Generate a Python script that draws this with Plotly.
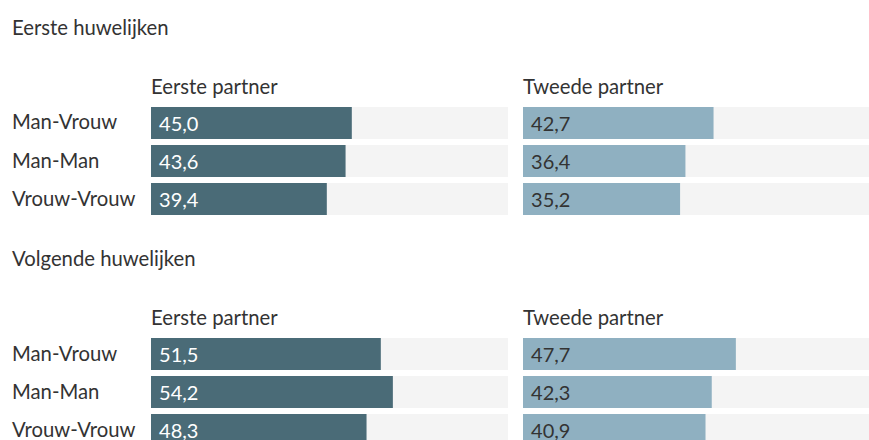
import plotly.graph_objects as go

categories = ["Man-Vrouw", "Man-Man", "Vrouw-Vrouw"]
sections = ["Eerste huwelijken", "Volgende huwelijken"]
panels = ["Eerste partner", "Tweede partner"]
eerste_huw_partner1 = [45.0, 43.6, 39.4]
eerste_huw_partner2 = [42.7, 36.4, 35.2]
volgende_huw_partner1 = [51.5, 54.2, 48.3]
volgende_huw_partner2 = [47.7, 42.3, 40.9]
max_value = 80

W, H = 869, 440
FONT = "Lato"
TXT = "#333333"
DARK = "#4a6b77"
LIGHT = "#8fb0c1"
BG = "#f4f4f4"
FS = 20.3

def fmt(v):
    return "\u00a0" + f"{v:.1f}".replace(".", ",")

fig = go.Figure()

data = [
    (eerste_huw_partner1, "x", "y", DARK, "white"),
    (eerste_huw_partner2, "x2", "y", LIGHT, TXT),
    (volgende_huw_partner1, "x", "y2", DARK, "white"),
    (volgende_huw_partner2, "x2", "y2", LIGHT, TXT),
]
bw = 32 / 38
for vals, xa, ya, col, tcol in data:
    fig.add_trace(go.Bar(
        y=categories, x=[max_value] * len(categories), orientation="h",
        marker=dict(color=BG, line=dict(width=0)), width=bw,
        xaxis=xa, yaxis=ya, hoverinfo="skip", showlegend=False))
    fig.add_trace(go.Bar(
        y=categories, x=vals, orientation="h",
        marker=dict(color=col, line=dict(width=0)), width=bw,
        text=[fmt(v) for v in vals], textposition="inside",
        insidetextanchor="start", textangle=0,
        insidetextfont=dict(family=FONT, size=20, color=tcol),
        xaxis=xa, yaxis=ya, showlegend=False))

def px(x):
    return x / W

def py(y):
    return 1 - y / H

xr2 = (W - 523) / (357 / max_value)
axis_common = dict(showgrid=False, zeroline=False, showticklabels=False, showline=False, fixedrange=True)
fig.update_layout(
    width=W, height=H,
    margin=dict(l=0, r=0, t=0, b=0),
    paper_bgcolor="white", plot_bgcolor="rgba(0,0,0,0)",
    barmode="overlay",
    font=dict(family=FONT, color=TXT, size=20),
    xaxis=dict(domain=[px(151), px(508)], range=[0, max_value], anchor="y", **axis_common),
    xaxis2=dict(domain=[px(523), 1], range=[0, xr2], anchor="y", **axis_common),
    yaxis=dict(domain=[py(218), py(104)], range=[2.5, -0.5], type="category",
               categoryorder="array", categoryarray=categories, anchor="x", **axis_common),
    yaxis2=dict(domain=[0, py(335)], range=[-0.5 + 105 / 38, -0.5], type="category",
                categoryorder="array", categoryarray=categories, anchor="x", **axis_common),
)

ann = []
for sec, ycent, ysub, yref in [(sections[0], 27, 85.5, "y"), (sections[1], 258, 316.5, "y2")]:
    ann.append(dict(text=sec, x=px(12) - 2 / W, y=py(ycent), xref="paper", yref="paper",
                    xanchor="left", yanchor="middle", showarrow=False,
                    font=dict(size=FS, color=TXT, family=FONT)))
    for p_i, p in enumerate(panels):
        ann.append(dict(text=p, x=px(151 if p_i == 0 else 523) - 2 / W, y=py(ysub),
                        xref="paper", yref="paper", xanchor="left", yanchor="middle",
                        showarrow=False, font=dict(size=FS, color=TXT, family=FONT)))
    for c in categories:
        ann.append(dict(text=c, x=px(12) - 2 / W, y=c, xref="paper", yref=yref,
                        xanchor="left", yanchor="middle", yshift=1.5, showarrow=False,
                        font=dict(size=FS, color=TXT, family=FONT)))
fig.update_layout(annotations=ann)

fig.write_html("out.html", config={"displayModeBar": False},
               post_script="document.body.style.margin='0px';document.body.style.overflow='hidden';")
